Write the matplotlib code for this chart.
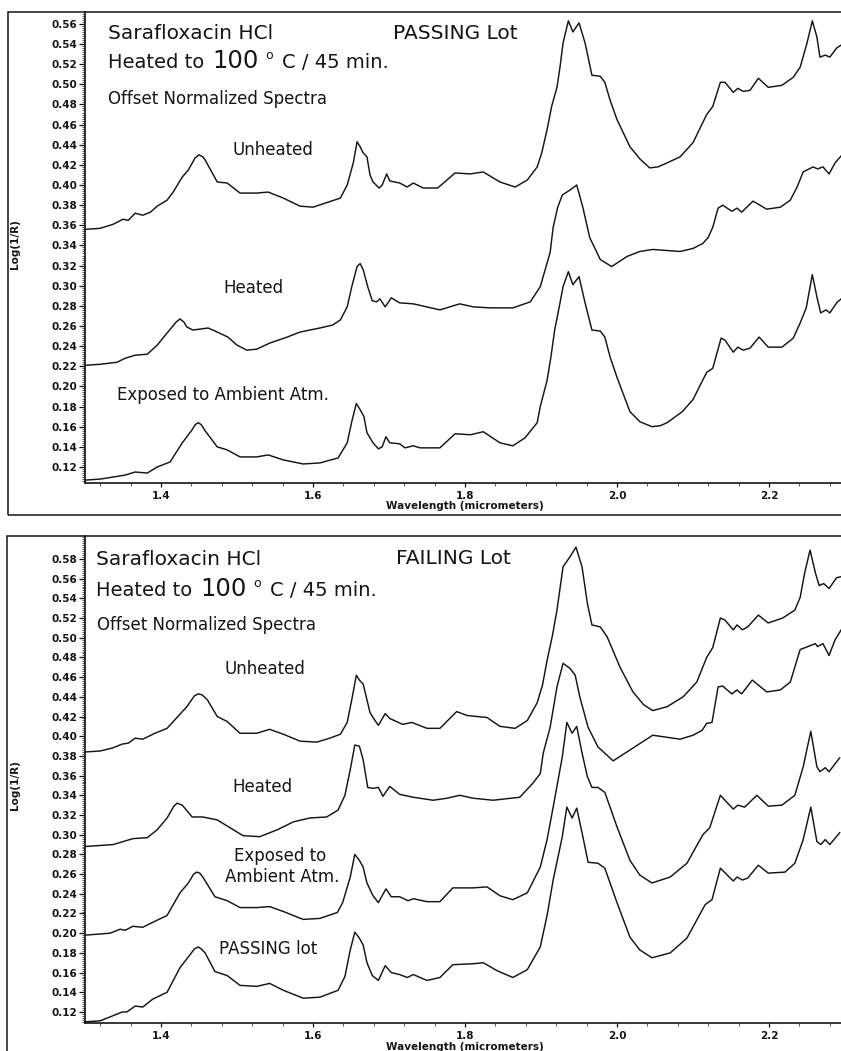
import numpy as np
import matplotlib
matplotlib.use("Agg")
import matplotlib.pyplot as plt
from matplotlib.patches import Rectangle
from matplotlib.ticker import AutoMinorLocator

# NIR spectra: (wavelength um, log(1/R))
PASS_UNHEATED = [
    (1.301, .356), (1.320, .357), (1.337, .361), (1.350, .366), (1.357, .365),
    (1.366, .372), (1.376, .370), (1.386, .373), (1.395, .379), (1.408, .385),
    (1.416, .393), (1.428, .408), (1.436, .415), (1.445, .427), (1.450, .430),
    (1.455, .428), (1.458, .425),
    (1.474, .403), (1.487, .402), (1.504, .392), (1.526, .392), (1.541, .393),
    (1.561, .387), (1.583, .379), (1.600, .378), (1.620, .383), (1.636, .387),
    (1.645, .400), (1.653, .422), (1.658, .443), (1.662, .438), (1.666, .432),
    (1.671, .428), (1.675, .410), (1.679, .403), (1.687, .397), (1.691, .400),
    (1.697, .411), (1.701, .404), (1.714, .402), (1.724, .398), (1.732, .402),
    (1.745, .397), (1.764, .397), (1.787, .412), (1.807, .411), (1.824, .413),
    (1.846, .403), (1.866, .398), (1.882, .405), (1.895, .418), (1.901, .432),
    (1.908, .455), (1.914, .478), (1.921, .497), (1.925, .517),
    (1.929, .541), (1.936, .563), (1.942, .552), (1.950, .561),
    (1.958, .541), (1.967, .509), (1.978, .508), (1.984, .502), (1.991, .484),
    (2.000, .465), (2.017, .438), (2.030, .426), (2.043, .417), (2.054, .418),
    (2.066, .422), (2.083, .428), (2.100, .442),
    (2.118, .470), (2.126, .478), (2.136, .502), (2.142, .502), (2.153, .492),
    (2.159, .496), (2.166, .493), (2.175, .494), (2.186, .506), (2.199, .497),
    (2.217, .499), (2.232, .507), (2.241, .517), (2.250, .541), (2.257, .563),
    (2.263, .547), (2.267, .527), (2.274, .529), (2.280, .527), (2.289, .536),
    (2.295, .539)]

PASS_HEATED = [
    (1.301, .221), (1.320, .222), (1.342, .224), (1.353, .228), (1.366, .231),
    (1.382, .232), (1.395, .241), (1.408, .253), (1.420, .264), (1.425, .267),
    (1.430, .264), (1.434, .259),
    (1.442, .256), (1.462, .258), (1.474, .254), (1.488, .249), (1.500, .241),
    (1.513, .236), (1.526, .237), (1.543, .243), (1.566, .249), (1.583, .254),
    (1.609, .258), (1.626, .261), (1.636, .266), (1.645, .279), (1.651, .299),
    (1.658, .319), (1.662, .322), (1.666, .316), (1.672, .299), (1.678, .285),
    (1.684, .284), (1.688, .287), (1.695, .279), (1.703, .288), (1.714, .283),
    (1.732, .282), (1.767, .276), (1.793, .282), (1.811, .279), (1.833, .278),
    (1.863, .278), (1.886, .284), (1.899, .299), (1.912, .333), (1.916, .358),
    (1.922, .378), (1.928, .390), (1.938, .395), (1.947, .400), (1.955, .378),
    (1.964, .348), (1.978, .326), (1.993, .319), (2.013, .329), (2.030, .334),
    (2.047, .336), (2.083, .334), (2.100, .337), (2.113, .342), (2.120, .348),
    (2.126, .358), (2.133, .377), (2.139, .380), (2.151, .374), (2.158, .377),
    (2.164, .373), (2.179, .384), (2.197, .376), (2.215, .378), (2.228, .385),
    (2.237, .398), (2.245, .413), (2.258, .418), (2.264, .416), (2.271, .418),
    (2.279, .411), (2.287, .422), (2.295, .429)]

PASS_EXPOSED = [
    (1.301, .107), (1.320, .108), (1.337, .110), (1.353, .112), (1.366, .115),
    (1.382, .114), (1.395, .120), (1.412, .125), (1.428, .144), (1.441, .157),
    (1.445, .162), (1.449, .164), (1.453, .162), (1.458, .156), (1.474, .140),
    (1.487, .137), (1.504, .130),
    (1.526, .130), (1.541, .132), (1.561, .127), (1.587, .123), (1.609, .124),
    (1.633, .129), (1.645, .144), (1.651, .165), (1.657, .183), (1.662, .177),
    (1.667, .170), (1.671, .154), (1.679, .144), (1.686, .138), (1.691, .140),
    (1.696, .150), (1.701, .144), (1.714, .143), (1.721, .139), (1.732, .141),
    (1.741, .139), (1.767, .139), (1.787, .153), (1.807, .152), (1.824, .155),
    (1.846, .144), (1.863, .141), (1.879, .149), (1.895, .164), (1.899, .180),
    (1.908, .206), (1.913, .229), (1.918, .256), (1.924, .279),
    (1.929, .299), (1.936, .314), (1.942, .301), (1.950, .309),
    (1.958, .283), (1.967, .256), (1.978, .255), (1.984, .249), (1.991, .229),
    (2.000, .209), (2.017, .175), (2.030, .165), (2.046, .160), (2.057, .161),
    (2.066, .164), (2.086, .175), (2.100, .187),
    (2.118, .214), (2.126, .218), (2.137, .248), (2.142, .246), (2.153, .234),
    (2.159, .239), (2.166, .236), (2.175, .238), (2.187, .249), (2.199, .239),
    (2.217, .239), (2.232, .248), (2.241, .263), (2.249, .278), (2.257, .311),
    (2.263, .289), (2.268, .273), (2.275, .276), (2.280, .273), (2.289, .283),
    (2.295, .287)]

FAIL_UNHEATED = [
    (1.300, .384), (1.320, .385), (1.336, .388), (1.349, .392), (1.357, .393),
    (1.366, .398), (1.376, .397), (1.392, .403), (1.408, .408), (1.421, .419),
    (1.434, .430), (1.444, .441), (1.449, .443), (1.454, .442), (1.461, .437),
    (1.474, .420), (1.487, .415),
    (1.504, .403), (1.526, .403), (1.543, .407), (1.561, .402), (1.583, .395),
    (1.605, .394), (1.622, .398), (1.636, .402), (1.645, .414), (1.651, .437),
    (1.657, .462), (1.661, .457), (1.666, .453), (1.671, .437), (1.675, .424),
    (1.679, .419), (1.686, .411), (1.695, .423), (1.701, .418), (1.718, .412),
    (1.730, .414), (1.750, .408), (1.767, .408), (1.789, .425), (1.803, .421),
    (1.829, .419), (1.846, .410), (1.866, .408), (1.882, .416), (1.895, .434),
    (1.902, .452), (1.908, .477), (1.915, .502), (1.921, .528), (1.929, .572),
    (1.938, .582), (1.946, .592), (1.954, .572), (1.961, .535), (1.967, .513),
    (1.978, .511), (1.987, .501), (2.004, .470), (2.021, .445), (2.035, .432),
    (2.047, .426), (2.066, .430), (2.087, .440),
    (2.105, .455), (2.118, .480), (2.126, .490), (2.136, .520), (2.142, .518),
    (2.153, .508), (2.158, .513), (2.165, .508), (2.172, .511), (2.186, .523),
    (2.199, .515), (2.218, .520), (2.234, .528), (2.241, .541), (2.247, .566),
    (2.254, .589), (2.261, .566), (2.266, .553), (2.272, .555), (2.279, .550),
    (2.289, .561), (2.295, .562)]

FAIL_HEATED = [
    (1.300, .288), (1.337, .290), (1.350, .293), (1.363, .296), (1.382, .297),
    (1.395, .305), (1.408, .317), (1.417, .329), (1.421, .332), (1.428, .330),
    (1.441, .318),
    (1.455, .318), (1.474, .315), (1.491, .307), (1.508, .299), (1.530, .298),
    (1.553, .305), (1.574, .313), (1.596, .317), (1.618, .318), (1.633, .325),
    (1.642, .340), (1.649, .366), (1.655, .391), (1.661, .390), (1.666, .376),
    (1.672, .348), (1.679, .347), (1.686, .348), (1.692, .339), (1.701, .349),
    (1.714, .341), (1.732, .338), (1.758, .335), (1.776, .337), (1.793, .340),
    (1.811, .337), (1.837, .335), (1.872, .338), (1.889, .352), (1.899, .362),
    (1.903, .383), (1.912, .409), (1.921, .450), (1.929, .474), (1.938, .469),
    (1.945, .462), (1.951, .440), (1.962, .409), (1.975, .389), (1.995, .375),
    (2.017, .386), (2.047, .401), (2.083, .397), (2.100, .401), (2.112, .406),
    (2.118, .413), (2.125, .414), (2.133, .450), (2.139, .451), (2.151, .443),
    (2.158, .447), (2.164, .443), (2.178, .457), (2.197, .445), (2.215, .447),
    (2.228, .455), (2.241, .488), (2.261, .494), (2.264, .491), (2.271, .494),
    (2.279, .482), (2.287, .498), (2.295, .508)]

FAIL_EXPOSED = [
    (1.300, .198), (1.333, .200), (1.346, .204), (1.353, .203), (1.363, .207),
    (1.376, .206), (1.389, .211), (1.408, .218), (1.425, .241), (1.436, .251),
    (1.443, .260), (1.447, .262), (1.451, .261), (1.455, .257), (1.471, .237),
    (1.487, .233), (1.504, .226),
    (1.526, .226), (1.543, .227), (1.561, .222), (1.587, .214), (1.609, .215),
    (1.632, .221), (1.639, .231), (1.649, .257), (1.655, .280), (1.661, .274),
    (1.666, .267), (1.671, .251), (1.679, .238), (1.686, .231), (1.696, .245),
    (1.703, .237), (1.714, .237), (1.725, .233), (1.732, .235), (1.750, .232),
    (1.767, .232), (1.784, .246), (1.811, .246), (1.829, .247), (1.846, .238),
    (1.863, .234), (1.882, .241), (1.899, .267), (1.908, .295), (1.916, .328),
    (1.928, .379), (1.934, .414), (1.941, .403), (1.947, .410), (1.954, .383),
    (1.961, .359), (1.967, .348), (1.975, .348), (1.984, .343), (2.000, .308),
    (2.017, .274), (2.030, .259), (2.046, .251), (2.070, .257), (2.092, .271),
    (2.113, .300), (2.122, .307),
    (2.136, .340), (2.153, .326), (2.159, .330), (2.168, .328), (2.184, .340),
    (2.199, .329), (2.217, .330), (2.234, .340), (2.245, .369), (2.255, .405),
    (2.263, .369), (2.267, .364), (2.274, .368), (2.279, .364), (2.293, .378)]

FAIL_PASSING = [
    (1.300, .110), (1.320, .111), (1.333, .115), (1.349, .120), (1.355, .120),
    (1.366, .126), (1.376, .125), (1.389, .133), (1.408, .140), (1.425, .165),
    (1.436, .176), (1.444, .184), (1.449, .186), (1.453, .184), (1.458, .180),
    (1.471, .161), (1.487, .157),
    (1.504, .147), (1.526, .146), (1.543, .149), (1.561, .142), (1.587, .134),
    (1.609, .135), (1.633, .142), (1.642, .156), (1.649, .183), (1.655, .201),
    (1.661, .195), (1.666, .188), (1.671, .170), (1.678, .157), (1.686, .152),
    (1.695, .167), (1.703, .160), (1.714, .158), (1.724, .155), (1.732, .158),
    (1.750, .152), (1.767, .155), (1.784, .168), (1.811, .169), (1.824, .170),
    (1.842, .162), (1.863, .155), (1.882, .163), (1.899, .186), (1.908, .218),
    (1.916, .254), (1.928, .298), (1.934, .328), (1.941, .317), (1.947, .327),
    (1.954, .302), (1.962, .272), (1.975, .271), (1.984, .266), (2.000, .231),
    (2.017, .196), (2.030, .183), (2.046, .175), (2.070, .180), (2.092, .195),
    (2.116, .229), (2.125, .234),
    (2.136, .266), (2.153, .253), (2.158, .257), (2.165, .254), (2.172, .256),
    (2.186, .269), (2.199, .261), (2.221, .262), (2.234, .271), (2.245, .295),
    (2.255, .328), (2.263, .293), (2.268, .290), (2.274, .295), (2.280, .290),
    (2.293, .302)]

TOP_YTICKS = np.round(np.arange(0.12, 0.5601, 0.02), 2)
BOT_YTICKS = np.round(np.arange(0.12, 0.5801, 0.02), 2)
XTICKS = [1.4, 1.6, 1.8, 2.0, 2.2]

W, H = 841, 1051
INK = "#151515"


def fx(px):
    return px / W


def fy(py):
    return 1 - py / H


fig = plt.figure(figsize=(W / 100, H / 100), dpi=100)
fig.patch.set_facecolor("white")

# panel frames
for x0, y0, x1, y1 in [(8, 12, 850, 515), (7, 536, 850, 1062)]:
    fig.patches.append(Rectangle((fx(x0), fy(y1)), (x1 - x0) / W, (y1 - y0) / H,
                                 transform=fig.transFigure, fill=False,
                                 lw=1.1, ec=INK))


def panel(top_px, bot_px, ylim, yticks, curves, ylab_py, xlab_py):
    ax = fig.add_axes([fx(85), fy(bot_px), (W - 85) / W, (bot_px - top_px) / H])
    for pts in curves:
        wl, val = zip(*pts)
        ax.plot(wl, val, color=INK, lw=1.05, solid_joinstyle="round")
    ax.set_xlim(1.3, 1.3 + (W - 85) / 760)
    ax.set_ylim(*ylim)
    ax.set_xticks(XTICKS)
    ax.set_xticklabels([f"{v:.1f}" for v in XTICKS], fontsize=7.5,
                       fontweight="bold")
    ax.set_yticks(yticks)
    ax.set_yticklabels([f"{v:.2f}" for v in yticks], fontsize=7.5,
                       fontweight="bold")
    ax.xaxis.set_minor_locator(AutoMinorLocator(5))
    ax.yaxis.set_minor_locator(AutoMinorLocator(10))
    ax.tick_params(axis="y", which="major", direction="out", length=4.5,
                   width=0.9, pad=1, colors=INK)
    ax.tick_params(axis="y", which="minor", direction="out", length=2,
                   width=0.5, colors=INK)
    ax.tick_params(axis="x", which="major", direction="out", length=3,
                   width=0.9, pad=2.5, colors=INK)
    ax.tick_params(axis="x", which="minor", direction="out", length=2,
                   width=0.5, colors=INK)
    for s in ("top", "right"):
        ax.spines[s].set_visible(False)
    for s in ("left", "bottom"):
        ax.spines[s].set_linewidth(1.2)
        ax.spines[s].set_color(INK)
    ax.patch.set_alpha(0)
    fig.text(fx(15), fy(ylab_py), "Log(1/R)", rotation=90, ha="center",
             va="center", fontsize=7.5, fontweight="bold", color=INK)
    fig.text(fx(465), fy(xlab_py), "Wavelength (micrometers)", ha="center",
             va="center", fontsize=7.5, fontweight="bold", color=INK)
    return ax


panel(12, 483, (0.1041, 0.5718), TOP_YTICKS,
      [PASS_UNHEATED, PASS_HEATED, PASS_EXPOSED], 244, 506)
panel(536, 1023, (0.1088, 0.6033), BOT_YTICKS,
      [FAIL_UNHEATED, FAIL_HEATED, FAIL_EXPOSED, FAIL_PASSING], 785, 1047)


def txt(s, px, py, size, ha="left"):
    fig.text(fx(px), fy(py), s, ha=ha, va="baseline", fontsize=size, color=INK)


def heading(px, py):
    txt("Heated to", px, py, 14)
    txt("100", px + 104, py, 17.5)
    txt("o", px + 157, py - 9, 9)
    txt("C / 45 min.", px + 174, py, 14)


# top panel annotations
txt("Sarafloxacin HCl", 108, 39, 14.5)
txt("PASSING Lot", 393, 39, 14.5)
heading(108, 68)
txt("Offset Normalized Spectra", 108, 104, 12)
txt("Unheated", 232, 155, 12)
txt("Heated", 223, 293, 12)
txt("Exposed to Ambient Atm.", 117, 400, 12)

# bottom panel annotations
txt("Sarafloxacin HCl", 96, 565, 14.5)
txt("FAILING Lot", 396, 564, 14.5)
heading(96, 596)
txt("Offset Normalized Spectra", 97, 630, 12)
txt("Unheated", 225, 674, 12)
txt("Heated", 232, 792, 12)
txt("Exposed to", 280, 861, 12, ha="center")
txt("Ambient Atm.", 282, 882, 12, ha="center")
txt("PASSING lot", 219, 954, 12)

fig.savefig("out.png", dpi=100)
